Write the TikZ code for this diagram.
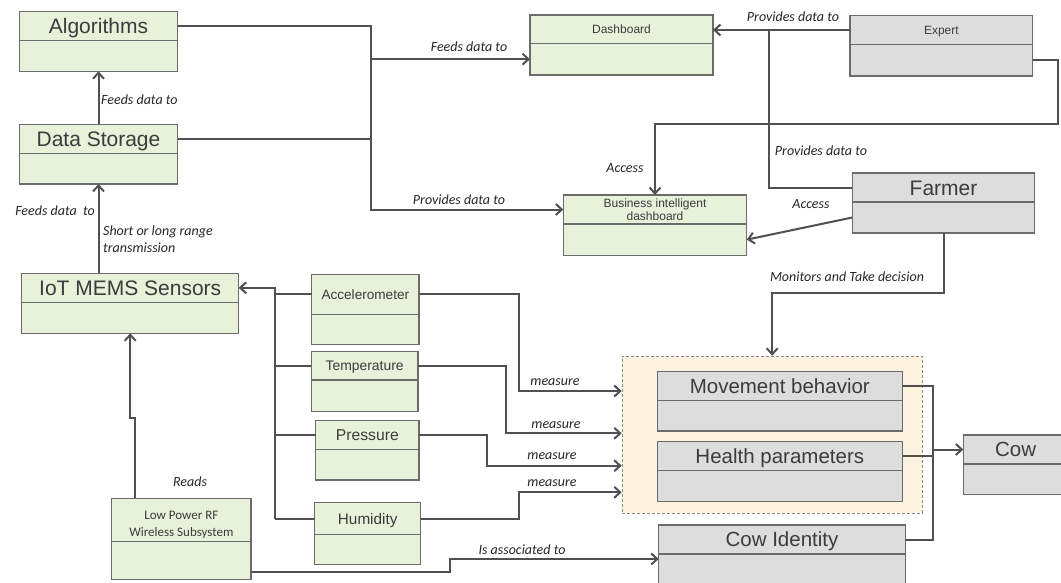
\documentclass[tikz,border=0pt]{standalone}
\usepackage{fontspec}
\setmainfont{Liberation Sans}
\newfontfamily\lblfont{Carlito}
\usetikzlibrary{arrows.meta,calc}

\definecolor{boxgreen}{HTML}{E8F1DA}
\definecolor{boxgray}{HTML}{DDDDDD}
\definecolor{boxline}{HTML}{6B6B6B}
\definecolor{wire}{HTML}{505050}
\definecolor{grpfill}{HTML}{FCF3DE}
\definecolor{grpline}{HTML}{8A8A8A}
\definecolor{titletext}{HTML}{3C3C3C}

\tikzset{
  umlframe/.style={draw=boxline, line width=1.2pt, inner sep=0pt, outer sep=0pt},
  strip/.style={inner sep=0pt, outer sep=0pt},
  titlestrip/.style={inner sep=0pt, outer sep=0pt, text=titletext, align=center},
  ttl/.style={font=\fontsize{#1pt}{#1pt}\selectfont, text height=0.72*#1pt, text depth=0pt},
  umldiv/.style={draw=boxline, line width=1.2pt},
  wire/.style={draw=wire, line width=2pt},
  arr/.style={wire, -{Straight Barb[length=6pt,width=11pt,line width=2pt]}},
  lbl/.style={font=\lblfont\itshape\fontsize{14}{16.5}\selectfont, text=black!85, inner sep=0pt, align=left},
}

% #1 name, #2 x1, #3 y1, #4 x2, #5 y2, #6 divider y, #7 fill, #8 title style, #9 title
\newcommand\umlbox[9]{%
  \pgfmathsetmacro\ubw{#4-#2}%
  \pgfmathsetmacro\ubh{#5-#3}%
  \pgfmathsetmacro\uth{#6-#3}%
  \pgfmathsetmacro\ubb{#5-#6}%
  \node[umlframe, fill=#7, minimum width=\ubw pt, minimum height=\ubh pt, anchor=north west] (#1) at (#2,#3) {};
  \node[strip, minimum width=\ubw pt, minimum height=\uth pt, anchor=north west] (#1-t) at (#2,#3) {};
  \node[strip, minimum width=\ubw pt, minimum height=\ubb pt, anchor=north west] (#1-b) at (#1-t.south west) {};
  \node[titlestrip, #8] (#1-n) at (#1-t.center) {#9};
  \draw[umldiv] (#1-t.south west) -- (#1-t.south east);
}

\begin{document}
\begin{tikzpicture}[x=1pt,y=-1pt]
\useasboundingbox (0,0) rectangle (1061,582);
\clip (0,0) rectangle (1061,582);

% sensed-data group
\node[draw=grpline, fill=grpfill, line width=1pt, dash pattern=on 3pt off 2pt,
      minimum width=300pt, minimum height=157pt, anchor=north west, inner sep=0pt] (grp) at (621.7,355.7) {};

% boxes
\umlbox{alg}{19.3}{11.7}{177.7}{71.3}{40.7}{boxgreen}{ttl=21}{Algorithms}
\umlbox{ds}{19.3}{124.3}{177.7}{184}{153.3}{boxgreen}{ttl=21}{Data Storage}
\umlbox{iot}{21.7}{273.3}{238.7}{333.3}{302.3}{boxgreen}{ttl=21}{IoT MEMS Sensors}
\umlbox{dash}{530}{15}{713}{75}{43.3}{boxgreen}{ttl=12}{Dashboard}
\umlbox{exp}{850}{15.7}{1032.7}{76}{44.3}{boxgray}{ttl=12}{Expert}
\umlbox{bi}{563.3}{195}{746.7}{255.3}{224}{boxgreen}{font=\fontsize{12}{13.5}\selectfont}{Business intelligent\\dashboard}
\umlbox{far}{852.3}{173}{1034.7}{233}{202}{boxgray}{ttl=21}{Farmer}
\umlbox{acc}{311.7}{274.3}{419}{344.3}{314.3}{boxgreen}{ttl=13.6}{Accelerometer}
\umlbox{temp}{311.3}{351.3}{418}{411.3}{380}{boxgreen}{ttl=13.9}{Temperature}
\umlbox{pres}{315.7}{420.3}{419}{480}{449.3}{boxgreen}{ttl=15.7}{Pressure}
\umlbox{hum}{314.7}{502.7}{420.7}{564.7}{534.7}{boxgreen}{ttl=15.3}{Humidity}
\umlbox{rf}{111.7}{498.3}{251}{579.3}{541.7}{boxgreen}{font=\lblfont\fontsize{13}{17}\selectfont, yshift=-4.5pt}{Low Power RF\\Wireless Subsystem}
\umlbox{mov}{657.3}{371.7}{902.3}{431}{400.3}{boxgray}{ttl=20.5}{Movement behavior}
\umlbox{hea}{657.3}{441.7}{902.3}{501.7}{470.3}{boxgray}{ttl=20.5}{Health parameters}
\umlbox{cow}{963.3}{435}{1068}{494.3}{464}{boxgray}{ttl=20.5}{Cow}
\umlbox{ci}{658.7}{525}{905.3}{592}{554}{boxgray}{ttl=20.5}{Cow Identity}

% storage chain
\draw[arr] (ds.north) -- (alg.south);
\node[lbl, anchor=west] at (101,100) {Feeds data to};
\draw[arr] (iot.north -| ds.south) -- (ds.south);
\node[lbl, anchor=east] at (95,211) {Feeds data~ to};
\node[lbl, anchor=north west] at (103,226) {Short or long range\\transmission};

% data bus to dashboards
\coordinate (bus) at (371,0);
\draw[wire] (alg-t.east) -| (bus |- ds-t.east) -- (ds-t.east);
\draw[arr] (bus |- dash-b.west) -- (dash-b.west);
\draw[arr] (bus |- ds-t.east) |- (bi-t.west);
\node[lbl] at (469,47) {Feeds data to};
\node[lbl] at (459,200) {Provides data to};

% expert and farmer
\draw[arr] (exp-t.west) -- (dash-t.east |- exp-t.west);
\node[lbl] at (793,17) {Provides data to};
\coordinate (fj) at (769,0);
\draw[wire] (far-t.west) -| (fj |- exp-t.west);
\node[lbl] at (821,151) {Provides data to};
\coordinate (ebend) at (1058.3,124.3);
\draw[arr] (exp-b.east) -| (ebend) -| (bi.north);
\node[lbl] at (625,168) {Access};
\draw[arr] (far-b.west) -- (bi-b.east);
\node[lbl] at (811,204) {Access};
\draw[arr] (far.south) -- ++(0,60.3) -| (grp.north);
\node[lbl] at (847,277) {Monitors and Take decision};

% sensors to IoT node
\coordinate (sbus) at (275,0);
\draw[arr] (sbus |- hum-t.west) -- (sbus |- iot-t.east) -- (iot-t.east);
\draw[wire] (acc-t.west) -- (sbus |- acc-t.west);
\draw[wire] (temp-t.west) -- (sbus |- temp-t.west);
\draw[wire] (pres-t.west) -- (sbus |- pres-t.west);
\draw[wire] (hum-t.west) -- (sbus |- hum-t.west);

% measurements into the group
\coordinate (gin1) at ($(grp.north west)+(0,35.3)$);
\coordinate (gin2) at ($(grp.north west)+(0,77.6)$);
\coordinate (gin3) at ($(grp.north west)+(0,110)$);
\coordinate (gin4) at ($(grp.north west)+(0,136.6)$);
\draw[arr] (acc-t.east) -- ++(100.3,0) |- (gin1);
\draw[arr] (temp-t.east) -- ++(88,0) |- (gin2);
\draw[arr] (pres-t.east) -- ++(68.3,0) |- (gin3);
\draw[arr] (hum-t.east) -- ++(98.6,0) |- (gin4);
\node[lbl] at (555,382) {measure};
\node[lbl] at (556,425) {measure};
\node[lbl] at (552,456) {measure};
\node[lbl] at (552,483) {measure};

% wireless subsystem
\draw[arr] ($(rf.north west)+(23.3,0)$) -- ++(0,-80) -| (iot.south);
\node[lbl] at (190,482) {Reads};
\coordinate (ciin) at ($(ci.north west)+(0,34)$);
\draw[arr] ($(rf.south east)+(0,-7.6)$) -- ++(199,0) |- (ciin);
\node[lbl] at (522,550) {Is associated to};

% cow aggregation
\coordinate (cj) at ($(cow-t.west)+(-30,0)$);
\draw[wire] (mov-t.east) -| (cj |- hea-t.east) -- (hea-t.east);
\draw[arr] (ci-t.east) -| (cj) -- (cow-t.west);
\end{tikzpicture}
\end{document}
